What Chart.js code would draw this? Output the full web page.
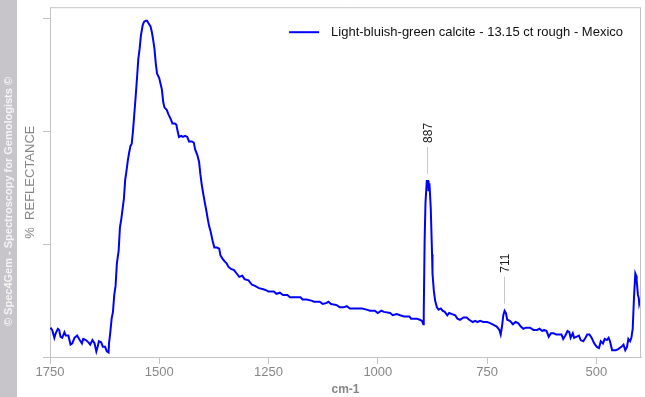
<!DOCTYPE html>
<html>
<head>
<meta charset="utf-8">
<script src="https://cdn.jsdelivr.net/npm/chart.js@4.4.1/dist/chart.umd.min.js"></script>
<style>
  html, body { margin: 0; padding: 0; background: #fff; }
  #wrap { width: 645px; height: 397px; }
</style>
</head>
<body>
<div id="wrap"><canvas id="chart" width="645" height="397"></canvas></div>
<script>
// wavenumber (cm-1) of each sample
const wavenumbers = [
  1749, 1745, 1740, 1737, 1732, 1729, 1726, 1722, 1717, 1714,
  1708, 1703, 1699, 1694, 1688, 1682, 1677, 1674, 1668, 1662,
  1658, 1653, 1648, 1644, 1641, 1638, 1633, 1629, 1624, 1620,
  1616, 1615, 1612, 1609, 1606, 1603, 1600, 1597, 1593, 1590,
  1587, 1584, 1581, 1578, 1575, 1572, 1569, 1566, 1563, 1560,
  1557, 1554, 1551, 1548, 1545, 1542, 1538, 1535, 1531, 1528,
  1525, 1520, 1517, 1514, 1511, 1508, 1505, 1500, 1497, 1494,
  1491, 1488, 1483, 1479, 1474, 1470, 1465, 1461, 1458, 1455,
  1450, 1446, 1441, 1436, 1432, 1426, 1421, 1418, 1413, 1409,
  1406, 1403, 1400, 1396, 1392, 1389, 1386, 1383, 1378, 1374,
  1368, 1363, 1360, 1355, 1351, 1346, 1342, 1336, 1329, 1323,
  1317, 1310, 1305, 1296, 1288, 1281, 1272, 1262, 1255, 1250,
  1244, 1238, 1232, 1224, 1217, 1207, 1201, 1190, 1181, 1177,
  1172, 1163, 1152, 1146, 1133, 1126, 1117, 1113, 1107, 1094,
  1087, 1079, 1071, 1064, 1056, 1049, 1036, 1026, 1018, 1007,
  1000, 992, 986, 972, 966, 957, 949, 940, 928, 924,
  911, 904, 899, 896, 895, 893, 891, 888, 885, 884,
  882, 879, 876, 875, 872, 869, 865, 861, 856, 852,
  847, 841, 837, 830, 823, 818, 812, 804, 797, 791,
  783, 777, 772, 766, 759, 750, 743, 728, 722, 719,
  716, 713, 710, 707, 704, 698, 691, 685, 679, 673,
  667, 661, 652, 644, 636, 630, 624, 620, 614, 609,
  604, 598, 592, 586, 580, 576, 571, 566, 562, 559,
  554, 551, 545, 540, 536, 530, 525, 521, 516, 511,
  505, 499, 494, 490, 485, 481, 476, 472, 469, 464,
  456, 450, 443, 438, 434, 430, 427, 423, 420, 417,
  414, 411, 409, 408, 405, 403, 402, 400
];

// reflectance, arbitrary units (one unit = one y tick step)
const reflectance = [
  0.26, 0.24, 0.17, 0.21, 0.25, 0.24, 0.18, 0.17, 0.22, 0.19,
  0.19, 0.11, 0.12, 0.17, 0.19, 0.15, 0.12, 0.16, 0.15, 0.13,
  0.11, 0.15, 0.12, 0.05, 0.09, 0.14, 0.13, 0.09, 0.09, 0.05,
  0.04, 0.12, 0.22, 0.34, 0.40, 0.55, 0.63, 0.83, 0.94, 1.15,
  1.22, 1.31, 1.40, 1.57, 1.65, 1.74, 1.81, 1.87, 1.89, 2.01,
  2.16, 2.31, 2.47, 2.64, 2.73, 2.85, 2.94, 2.97, 2.98, 2.98,
  2.96, 2.93, 2.88, 2.81, 2.73, 2.60, 2.51, 2.47, 2.42, 2.37,
  2.26, 2.21, 2.19, 2.15, 2.11, 2.07, 2.07, 2.06, 2.00, 1.95,
  1.96, 1.95, 1.96, 1.95, 1.91, 1.91, 1.90, 1.84, 1.79, 1.73,
  1.62, 1.53, 1.46, 1.37, 1.29, 1.22, 1.16, 1.12, 1.03, 0.97,
  0.97, 0.96, 0.90, 0.87, 0.85, 0.83, 0.80, 0.78, 0.77, 0.74,
  0.71, 0.72, 0.69, 0.68, 0.64, 0.63, 0.61, 0.60, 0.59, 0.58,
  0.58, 0.58, 0.56, 0.57, 0.55, 0.55, 0.53, 0.53, 0.53, 0.53,
  0.51, 0.51, 0.50, 0.49, 0.49, 0.47, 0.48, 0.49, 0.47, 0.46,
  0.44, 0.44, 0.45, 0.43, 0.43, 0.43, 0.43, 0.42, 0.41, 0.41,
  0.39, 0.41, 0.40, 0.39, 0.37, 0.38, 0.37, 0.36, 0.36, 0.34,
  0.34, 0.33, 0.32, 0.29, 0.39, 1.03, 1.37, 1.56, 1.56, 1.47,
  1.54, 1.32, 0.91, 0.74, 0.59, 0.50, 0.44, 0.42, 0.43, 0.41,
  0.40, 0.37, 0.39, 0.38, 0.37, 0.34, 0.33, 0.35, 0.35, 0.33,
  0.31, 0.32, 0.31, 0.32, 0.31, 0.31, 0.30, 0.27, 0.24, 0.20,
  0.27, 0.37, 0.41, 0.39, 0.33, 0.32, 0.29, 0.31, 0.30, 0.27,
  0.25, 0.26, 0.26, 0.24, 0.24, 0.25, 0.23, 0.24, 0.23, 0.18,
  0.21, 0.21, 0.20, 0.20, 0.20, 0.16, 0.19, 0.23, 0.22, 0.17,
  0.21, 0.17, 0.18, 0.19, 0.15, 0.14, 0.17, 0.20, 0.20, 0.17,
  0.12, 0.09, 0.08, 0.14, 0.12, 0.16, 0.15, 0.17, 0.14, 0.06,
  0.06, 0.07, 0.09, 0.11, 0.06, 0.09, 0.16, 0.14, 0.17, 0.25,
  0.53, 0.74, 0.72, 0.68, 0.55, 0.52, 0.47, 0.50
];

const xTicks = [1750, 1500, 1250, 1000, 750, 500];
const yTicks = [0, 1, 2, 3];
const peakLabels = [887, 711];
const seriesLabel = 'Light-bluish-green calcite - 13.15 ct rough - Mexico';
const xTitle = 'cm-1';
const yTitle = '%  REFLECTANCE';
const copyright = '\u00A9 Spec4Gem - Spectroscopy for Gemologists \u00A9';

const textFamily = '"Liberation Sans", Arial, sans-serif';
const axisGrey = '#c4c4c4';
const labelGrey = '#878787';

const decor = {
  id: 'decor',
  beforeDraw(chart) {
    const ctx = chart.ctx;
    ctx.save();
    ctx.fillStyle = '#c7c5c9';
    ctx.fillRect(0, 0, 17, chart.height);
    ctx.translate(9, chart.height / 2 + 3);
    ctx.rotate(-Math.PI / 2);
    ctx.fillStyle = '#f4f4f4';
    ctx.font = 'bold 11px ' + textFamily;
    ctx.textAlign = 'center';
    ctx.textBaseline = 'middle';
    ctx.fillText(copyright, 0, 0);
    ctx.restore();
  },
  afterDraw(chart) {
    const ctx = chart.ctx;
    const a = chart.chartArea;
    const x = chart.scales.x;
    const y = chart.scales.y;
    ctx.save();

    // top and right side of the frame
    ctx.strokeStyle = axisGrey;
    ctx.lineWidth = 1;
    ctx.beginPath();
    ctx.moveTo(a.left, a.top + 0.5);
    ctx.lineTo(a.right - 0.5, a.top + 0.5);
    ctx.lineTo(a.right - 0.5, a.bottom);
    ctx.stroke();

    // legend
    const ds = chart.data.datasets[0];
    ctx.font = '13px ' + textFamily;
    ctx.textBaseline = 'middle';
    ctx.textAlign = 'right';
    ctx.fillStyle = '#111';
    const lx = a.right - 18;
    const ly = a.top + 25;
    const tw = ctx.measureText(ds.label).width;
    ctx.fillText(ds.label, lx, ly);
    ctx.strokeStyle = ds.borderColor;
    ctx.lineWidth = 2;
    ctx.beginPath();
    ctx.moveTo(lx - tw - 12, ly);
    ctx.lineTo(lx - tw - 42, ly);
    ctx.stroke();

    // peak markers
    ctx.font = '12px ' + textFamily;
    ctx.textAlign = 'left';
    ctx.textBaseline = 'middle';
    peakLabels.forEach(wn => {
      let best = -Infinity;
      wavenumbers.forEach((w, i) => {
        if (Math.abs(w - wn) <= 6 && reflectance[i] > best) best = reflectance[i];
      });
      const px = Math.round(x.getPixelForValue(wn)) + 0.5;
      const py = y.getPixelForValue(best);
      ctx.strokeStyle = '#c8c8c8';
      ctx.lineWidth = 1;
      ctx.beginPath();
      ctx.moveTo(px, py - 7);
      ctx.lineTo(px, py - 34);
      ctx.stroke();
      ctx.save();
      ctx.translate(px + 1, py - 38);
      ctx.rotate(-Math.PI / 2);
      ctx.fillStyle = '#222';
      ctx.fillText(String(wn), 0, 0);
      ctx.restore();
    });

    // axis titles
    ctx.fillStyle = labelGrey;
    ctx.textAlign = 'center';
    ctx.textBaseline = 'alphabetic';
    ctx.font = 'bold 12px ' + textFamily;
    ctx.fillText(xTitle, (a.left + a.right) / 2, 393);
    ctx.save();
    ctx.translate(34, (a.top + a.bottom) / 2);
    ctx.rotate(-Math.PI / 2);
    ctx.font = '13px ' + textFamily;
    ctx.fillText(yTitle, 0, 0);
    ctx.restore();

    ctx.restore();
  }
};

new Chart(document.getElementById('chart'), {
  type: 'line',
  data: {
    datasets: [{
      label: seriesLabel,
      data: wavenumbers.map((w, i) => ({ x: w, y: reflectance[i] })),
      borderColor: '#0000ff',
      borderWidth: 2,
      pointRadius: 0,
      tension: 0,
      fill: false
    }]
  },
  options: {
    responsive: false,
    devicePixelRatio: 1,
    animation: false,
    events: [],
    layout: { padding: { top: 5, right: 4, left: 0, bottom: 0 } },
    plugins: { legend: { display: false }, tooltip: { enabled: false } },
    scales: {
      x: {
        type: 'linear',
        reverse: true,
        min: 398,
        max: 1750,
        afterBuildTicks: s => { s.ticks = xTicks.map(v => ({ value: v })); },
        afterFit: s => { s.height = 40; },
        grid: { drawOnChartArea: false, drawTicks: true, tickLength: 7, color: axisGrey },
        border: { color: axisGrey },
        ticks: {
          color: labelGrey,
          font: { family: textFamily, size: 13 },
          padding: 1,
          maxRotation: 0,
          autoSkip: false,
          callback: v => String(v)
        }
      },
      y: {
        type: 'linear',
        min: 0,
        max: 3.1,
        afterBuildTicks: s => { s.ticks = yTicks.map(v => ({ value: v })); },
        afterFit: s => { s.width = 50; },
        grid: { drawOnChartArea: false, drawTicks: true, tickLength: 7, color: axisGrey },
        border: { color: axisGrey },
        ticks: { callback: () => '', padding: 0 }
      }
    }
  },
  plugins: [decor]
});
</script>
</body>
</html>
